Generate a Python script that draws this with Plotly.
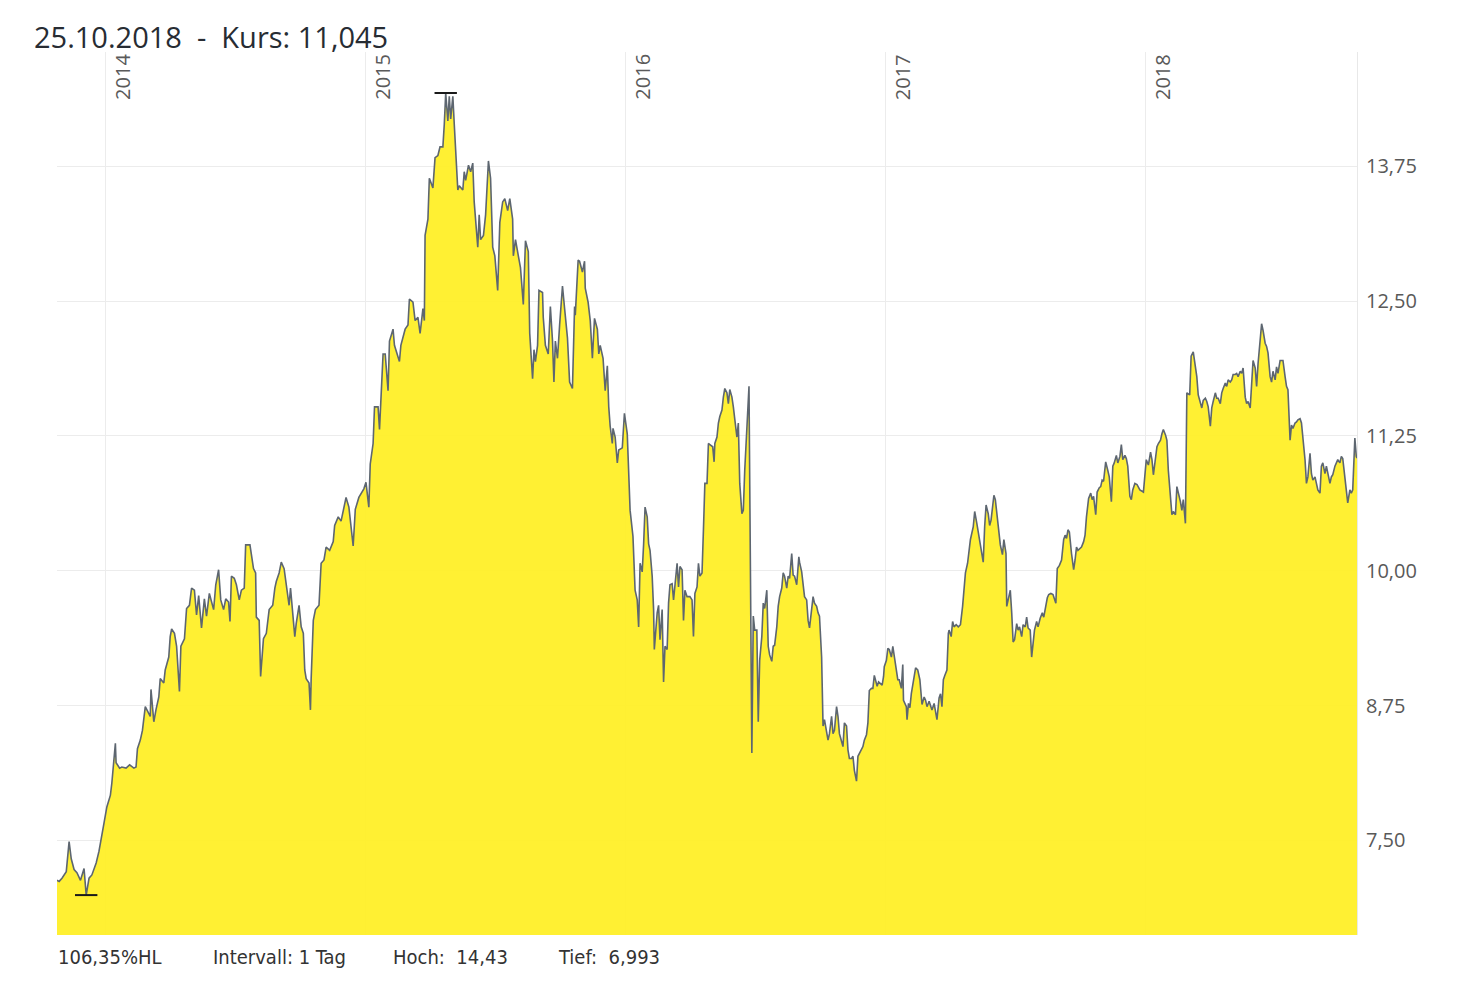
import plotly.graph_objects as go

# closing prices (day-month per year, price in EUR)
days_2013 = ['10-25', '10-28', '11-01', '11-07', '11-11', '11-14', '11-18', '11-22', '11-27', '12-02',
             '12-05', '12-09', '12-13', '12-19', '12-23', '12-27', '12-30']
px_2013 = [7.13, 7.12, 7.15, 7.21, 7.49, 7.33, 7.23, 7.20, 7.13, 7.24,
           6.993, 7.15, 7.18, 7.29, 7.40, 7.57, 7.66]

days_2014 = ['01-03', '01-08', '01-10', '01-13', '01-15', '01-16', '01-21', '01-24', '01-30', '02-04',
             '02-10', '02-13', '02-15', '02-19', '02-22', '02-26', '03-03', '03-05', '03-06', '03-10',
             '03-13', '03-17', '03-19', '03-24', '03-26', '03-31', '04-02', '04-04', '04-08', '04-11',
             '04-15', '04-17', '04-22', '04-25', '04-29', '05-02', '05-06', '05-09', '05-12', '05-16',
             '05-20', '05-23', '05-27', '05-30', '06-02', '06-05', '06-09', '06-12', '06-16', '06-19',
             '06-23', '06-25', '06-27', '07-01', '07-04', '07-08', '07-11', '07-15', '07-17', '07-23',
             '07-28', '07-31', '08-01', '08-05', '08-07', '08-11', '08-15', '08-19', '08-24', '08-27',
             '08-29', '09-02', '09-05', '09-09', '09-12', '09-16', '09-18', '09-22', '09-24', '09-26',
             '09-30', '10-03', '10-06', '10-08', '10-10', '10-14', '10-16', '10-17', '10-20', '10-23',
             '10-28', '10-31', '11-04', '11-07', '11-12', '11-17', '11-19', '11-24', '11-28', '12-05',
             '12-09', '12-15', '12-18', '12-23', '12-30']
px_2014 = [7.81, 7.92, 8.03, 8.25, 8.40, 8.22, 8.17, 8.18, 8.17, 8.20,
           8.17, 8.18, 8.35, 8.43, 8.52, 8.74, 8.68, 8.65, 8.90, 8.60,
           8.71, 8.83, 9.00, 8.96, 9.08, 9.20, 9.39, 9.46, 9.42, 9.30,
           8.88, 9.30, 9.37, 9.65, 9.68, 9.84, 9.82, 9.59, 9.77, 9.47,
           9.74, 9.58, 9.79, 9.71, 9.64, 9.87, 10.01, 9.73, 9.64, 9.74,
           9.71, 9.53, 9.95, 9.93, 9.87, 9.73, 9.82, 9.84, 10.24, 10.24,
           10.02, 9.98, 9.57, 9.54, 9.02, 9.37, 9.42, 9.64, 9.68, 9.84,
           9.90, 9.98, 10.08, 10.02, 9.87, 9.68, 9.84, 9.57, 9.39, 9.51,
           9.68, 9.48, 9.42, 9.08, 9.00, 8.96, 8.71, 9.00, 9.54, 9.64,
           9.68, 10.07, 10.10, 10.22, 10.19, 10.27, 10.42, 10.50, 10.46, 10.68,
           10.59, 10.23, 10.57, 10.68, 10.76]

days_2015 = ['01-02', '01-06', '01-08', '01-12', '01-14', '01-19', '01-21', '01-23', '01-26', '01-29',
             '02-02', '02-04', '02-09', '02-11', '02-13', '02-18', '02-20', '02-26', '03-02', '03-04',
             '03-09', '03-12', '03-16', '03-19', '03-23', '03-25', '03-26', '03-30', '04-01', '04-06',
             '04-09', '04-13', '04-16', '04-20', '04-22', '04-24', '04-27', '04-29', '05-01', '05-04',
             '05-06', '05-08', '05-11', '05-13', '05-18', '05-20', '05-22', '05-26', '05-29', '06-01',
             '06-03', '06-08', '06-10', '06-12', '06-16', '06-19', '06-23', '06-26', '06-29', '07-02',
             '07-06', '07-09', '07-13', '07-16', '07-20', '07-23', '07-27', '07-28', '07-31', '08-04',
             '08-07', '08-11', '08-14', '08-18', '08-20', '08-24', '08-26', '08-28', '08-31', '09-02',
             '09-07', '09-08', '09-11', '09-15', '09-18', '09-21', '09-23', '09-25', '09-28', '10-01',
             '10-05', '10-08', '10-12', '10-15', '10-19', '10-22', '10-23', '10-27', '10-29', '11-02',
             '11-05', '11-06', '11-10', '11-13', '11-16', '11-19', '11-23', '11-25', '11-27', '12-01',
             '12-04', '12-07', '12-09', '12-11', '12-14', '12-15', '12-18', '12-21', '12-23', '12-28',
             '12-30', '12-31']
px_2015 = [10.82, 10.59, 10.99, 11.18, 11.52, 11.52, 11.31, 11.63, 12.01, 12.01,
           11.67, 12.13, 12.24, 12.09, 12.05, 11.94, 12.09, 12.24, 12.28, 12.52,
           12.49, 12.32, 12.35, 12.20, 12.43, 12.32, 13.11, 13.26, 13.64, 13.55,
           13.83, 13.85, 13.93, 13.93, 14.14, 14.43, 14.17, 14.40, 14.19, 14.40,
           14.14, 13.87, 13.53, 13.57, 13.53, 13.70, 13.62, 13.76, 13.70, 13.78,
           13.42, 13.00, 13.30, 13.07, 13.11, 13.30, 13.80, 13.64, 13.00, 12.92,
           12.60, 13.23, 13.42, 13.45, 13.34, 13.45, 13.26, 12.92, 13.07, 12.92,
           12.81, 12.47, 13.06, 12.96, 12.20, 11.78, 12.05, 11.94, 12.09, 12.60,
           12.58, 12.35, 12.09, 12.01, 12.45, 12.13, 11.75, 12.13, 11.97, 12.28,
           12.64, 12.43, 12.16, 11.75, 11.69, 12.45, 12.37, 12.88, 12.87, 12.77,
           12.87, 12.62, 12.49, 12.32, 11.97, 12.34, 12.24, 12.01, 12.09, 11.97,
           11.67, 11.90, 11.52, 11.34, 11.18, 11.32, 11.24, 11.00, 11.12, 11.14,
           11.31, 11.46]

days_2016 = ['01-04', '01-06', '01-08', '01-12', '01-15', '01-18', '01-20', '01-22', '01-25', '01-27',
             '01-29', '02-01', '02-03', '02-05', '02-08', '02-10', '02-11', '02-15', '02-17', '02-19',
             '02-22', '02-24', '02-26', '02-29', '03-02', '03-04', '03-07', '03-09', '03-11', '03-14',
             '03-16', '03-18', '03-21', '03-23', '03-25', '03-28', '04-01', '04-04', '04-06', '04-08',
             '04-11', '04-13', '04-15', '04-18', '04-20', '04-22', '04-25', '04-27', '04-29', '05-03',
             '05-05', '05-06', '05-09', '05-11', '05-13', '05-16', '05-18', '05-20', '05-23', '05-25',
             '05-27', '05-30', '06-01', '06-03', '06-06', '06-08', '06-09', '06-10', '06-13', '06-15',
             '06-17', '06-20', '06-21', '06-23', '06-27', '06-29', '07-01', '07-04', '07-06', '07-08',
             '07-11', '07-13', '07-15', '07-18', '07-20', '07-22', '07-25', '07-27', '07-29', '08-01',
             '08-03', '08-05', '08-08', '08-10', '08-12', '08-15', '08-17', '08-19', '08-22', '08-24',
             '08-26', '08-29', '09-01', '09-02', '09-05', '09-07', '09-09', '09-12', '09-14', '09-16',
             '09-19', '09-21', '09-23', '09-26', '09-28', '09-30', '10-03', '10-05', '10-07', '10-10',
             '10-12', '10-14', '10-17', '10-19', '10-21', '10-24', '10-26', '10-28', '10-31', '11-02',
             '11-04', '11-07', '11-09', '11-11', '11-14', '11-16', '11-18', '11-21', '11-23', '11-25',
             '11-28', '11-30', '12-02', '12-05', '12-07', '12-09', '12-12', '12-14', '12-16', '12-20',
             '12-22', '12-27', '12-29', '12-30']
px_2016 = [11.27, 10.93, 10.56, 10.32, 9.82, 9.73, 9.48, 10.07, 9.99, 10.25,
           10.59, 10.50, 10.25, 10.19, 9.95, 9.64, 9.27, 9.61, 9.68, 9.36,
           9.64, 8.97, 9.30, 9.27, 9.70, 9.87, 9.88, 9.73, 9.88, 10.07,
           9.85, 10.04, 10.01, 9.54, 9.82, 9.76, 9.76, 9.73, 9.39, 9.79,
           9.85, 10.07, 9.95, 9.98, 10.38, 10.81, 10.81, 11.18, 11.17, 11.15,
           11.01, 11.18, 11.24, 11.37, 11.43, 11.49, 11.61, 11.69, 11.65, 11.55,
           11.68, 11.61, 11.52, 11.40, 11.24, 11.37, 11.12, 10.81, 10.53, 10.56,
           10.93, 11.34, 11.34, 11.71, 8.31, 9.58, 9.45, 9.45, 8.60, 9.17,
           9.39, 9.70, 9.65, 9.82, 9.30, 9.22, 9.16, 9.30, 9.31, 9.48,
           9.67, 9.76, 9.84, 9.98, 9.95, 9.84, 9.95, 9.93, 10.16, 9.96,
           9.95, 9.87, 10.13, 10.08, 9.99, 9.88, 9.76, 9.73, 9.54, 9.47,
           9.64, 9.76, 9.70, 9.67, 9.61, 9.58, 9.20, 8.56, 8.62, 8.52,
           8.43, 8.49, 8.65, 8.49, 8.52, 8.74, 8.65, 8.49, 8.43, 8.37,
           8.59, 8.56, 8.34, 8.26, 8.26, 8.28, 8.15, 8.05, 8.28, 8.31,
           8.35, 8.37, 8.43, 8.48, 8.59, 8.89, 8.91, 8.91, 9.03, 8.93,
           8.97, 8.94, 9.02, 9.11]

days_2017 = ['01-02', '01-04', '01-06', '01-09', '01-11', '01-13', '01-16', '01-18', '01-20', '01-23',
             '01-25', '01-26', '01-30', '01-31', '02-02', '02-04', '02-06', '02-09', '02-12', '02-15',
             '02-18', '02-21', '02-24', '02-26', '02-28', '03-03', '03-05', '03-07', '03-10', '03-12',
             '03-14', '03-17', '03-19', '03-21', '03-23', '03-25', '03-28', '03-30', '03-31', '04-03',
             '04-05', '04-07', '04-10', '04-13', '04-16', '04-19', '04-21', '04-23', '04-26', '04-28',
             '04-30', '05-04', '05-06', '05-09', '05-12', '05-15', '05-18', '05-20', '05-22', '05-25',
             '05-27', '05-29', '05-31', '06-02', '06-04', '06-07', '06-09', '06-11', '06-14', '06-16',
             '06-19', '06-20', '06-22', '06-25', '06-27', '06-29', '07-01', '07-04', '07-06', '07-08',
             '07-11', '07-13', '07-16', '07-18', '07-20', '07-23', '07-25', '07-27', '07-29', '08-01',
             '08-03', '08-06', '08-09', '08-11', '08-14', '08-16', '08-18', '08-21', '08-24', '08-28',
             '08-30', '09-02', '09-05', '09-08', '09-10', '09-12', '09-14', '09-16', '09-19', '09-22',
             '09-24', '09-26', '09-28', '10-01', '10-03', '10-06', '10-08', '10-10', '10-13', '10-16',
             '10-18', '10-20', '10-23', '10-25', '10-28', '10-30', '11-01', '11-03', '11-06', '11-09',
             '11-11', '11-14', '11-16', '11-18', '11-21', '11-23', '11-26', '11-28', '11-30', '12-03',
             '12-05', '12-07', '12-10', '12-12', '12-14', '12-17', '12-20', '12-24', '12-28', '12-29']
px_2017 = [9.17, 9.28, 9.27, 9.20, 9.30, 9.20, 9.08, 8.99, 8.99, 8.91,
           9.13, 8.80, 8.74, 8.62, 8.77, 8.73, 8.86, 8.99, 9.10, 9.08,
           8.99, 8.76, 8.83, 8.80, 8.74, 8.79, 8.74, 8.71, 8.77, 8.68,
           8.62, 8.82, 8.86, 8.74, 8.99, 9.03, 9.08, 9.42, 9.45, 9.39,
           9.53, 9.48, 9.50, 9.48, 9.50, 9.67, 9.88, 9.98, 10.07, 10.16,
           10.29, 10.41, 10.55, 10.44, 10.32, 10.22, 10.08, 10.41, 10.61, 10.53,
           10.42, 10.47, 10.61, 10.70, 10.66, 10.46, 10.38, 10.24, 10.15, 10.29,
           10.16, 9.67, 9.73, 9.82, 9.61, 9.34, 9.36, 9.51, 9.45, 9.48,
           9.39, 9.50, 9.48, 9.57, 9.47, 9.45, 9.20, 9.37, 9.45, 9.53,
           9.48, 9.56, 9.61, 9.57, 9.67, 9.75, 9.78, 9.79, 9.78, 9.70,
           10.02, 10.05, 10.10, 10.29, 10.33, 10.30, 10.38, 10.36, 10.16, 10.01,
           10.10, 10.22, 10.19, 10.21, 10.22, 10.27, 10.33, 10.50, 10.67, 10.72,
           10.66, 10.69, 10.52, 10.73, 10.77, 10.78, 10.84, 10.83, 11.01, 10.93,
           10.87, 10.64, 10.97, 11.00, 11.07, 11.00, 11.06, 11.17, 11.03, 11.07,
           11.04, 10.97, 10.69, 10.66, 10.75, 10.81, 10.80, 10.75, 10.73, 10.73]

days_2018 = ['01-02', '01-05', '01-08', '01-10', '01-12', '01-15', '01-17', '01-19', '01-22', '01-24',
             '01-26', '01-29', '01-31', '02-02', '02-05', '02-07', '02-09', '02-12', '02-14', '02-16',
             '02-19', '02-21', '02-23', '02-26', '02-28', '03-04', '03-06', '03-09', '03-12', '03-14',
             '03-16', '03-19', '03-21', '03-23', '03-26', '03-28', '03-30', '04-02', '04-04', '04-06',
             '04-09', '04-11', '04-13', '04-16', '04-18', '04-20', '04-23', '04-25', '04-27', '04-30',
             '05-02', '05-04', '05-07', '05-09', '05-11', '05-14', '05-16', '05-18', '05-21', '05-23',
             '05-25', '05-28', '05-30', '06-01', '06-04', '06-06', '06-08', '06-11', '06-13', '06-15',
             '06-18', '06-20', '06-22', '06-25', '06-27', '06-29', '07-02', '07-04', '07-06', '07-09',
             '07-11', '07-13', '07-16', '07-18', '07-20', '07-23', '07-25', '07-27', '07-30', '08-01',
             '08-03', '08-06', '08-08', '08-10', '08-13', '08-15', '08-17', '08-20', '08-22', '08-24',
             '08-27', '08-29', '08-31', '09-03', '09-05', '09-07', '09-10', '09-12', '09-14', '09-17',
             '09-19', '09-21', '09-24', '09-26', '09-28', '10-01', '10-03', '10-05', '10-08', '10-10',
             '10-12', '10-15', '10-17', '10-19', '10-22', '10-24', '10-25']
px_2018 = [11.03, 10.98, 11.10, 11.03, 10.89, 11.04, 11.15, 11.18, 11.21, 11.27,
           11.31, 11.26, 11.21, 10.93, 10.69, 10.52, 10.55, 10.52, 10.78, 10.73,
           10.64, 10.56, 10.66, 10.44, 11.65, 11.63, 11.99, 12.03, 11.91, 11.80,
           11.63, 11.57, 11.51, 11.58, 11.60, 11.57, 11.52, 11.34, 11.51, 11.57,
           11.65, 11.60, 11.60, 11.55, 11.65, 11.69, 11.74, 11.71, 11.77, 11.75,
           11.77, 11.82, 11.82, 11.83, 11.80, 11.85, 11.83, 11.88, 11.61, 11.55,
           11.57, 11.51, 11.80, 11.95, 11.88, 11.71, 11.92, 12.11, 12.29, 12.23,
           12.11, 12.08, 12.02, 11.80, 11.75, 11.85, 11.77, 11.89, 11.83, 11.95,
           11.95, 11.95, 11.80, 11.71, 11.68, 11.21, 11.35, 11.32, 11.37, 11.38,
           11.40, 11.41, 11.37, 11.24, 11.03, 10.81, 10.87, 11.09, 10.90, 10.84,
           10.87, 10.81, 10.75, 10.72, 10.97, 11.00, 10.90, 10.97, 10.90, 10.81,
           10.87, 10.89, 10.97, 11.00, 11.03, 11.00, 11.06, 11.04, 10.87, 10.75,
           10.63, 10.75, 10.72, 10.75, 11.23, 11.06, 11.045]

year_labels = ['2014', '2015', '2016', '2017', '2018']
headline = '25.10.2018\u00a0\u00a0-\u00a0\u00a0Kurs: 11,045'
footer_texts = ['106,35%HL', 'Intervall: 1 Tag', 'Hoch:\u00a0\u00a014,43', 'Tief:\u00a0\u00a06,993']


def main():
    dates, prices = [], []
    for yr, days, vals in [(2013, days_2013, px_2013), (2014, days_2014, px_2014),
                           (2015, days_2015, px_2015), (2016, days_2016, px_2016),
                           (2017, days_2017, px_2017), (2018, days_2018, px_2018)]:
        dates += [f'{yr}-{d}' for d in days]
        prices += vals

    hi = prices.index(max(prices))
    lo = prices.index(min(prices))

    fig = go.Figure()
    fig.add_trace(go.Scatter(
        x=dates, y=prices, mode='lines',
        line=dict(color='#5d6670', width=1.6),
        fill='tozeroy', fillcolor='rgba(255,239,34,0.92)',
        hoverinfo='skip'))
    # high / low markers
    fig.add_trace(go.Scatter(
        x=[dates[hi], dates[lo]], y=[prices[hi], prices[lo]], mode='markers',
        marker=dict(symbol='line-ew', size=16, color='#1a1a1a',
                    line=dict(color='#1a1a1a', width=2)),
        hoverinfo='skip'))

    ann = []
    for y in year_labels:
        ann.append(dict(x=f'{y}-01-01', xref='x', y=1, yref='paper',
                        xanchor='left', yanchor='top', textangle=-90, xshift=1,
                        text=y, showarrow=False,
                        font=dict(family='Open Sans', size=20, color='#5a5a5a')))
    ann.append(dict(x=-25 / 1300, xref='paper', y=1, yref='paper', yshift=16,
                    xanchor='left', yanchor='middle', text=headline, showarrow=False,
                    font=dict(family='Open Sans', size=29, color='#272c33')))
    for xp, t in zip([0, 155, 335, 500], footer_texts):
        ann.append(dict(x=xp / 1300 - 0.001, xref='paper', y=0, yref='paper', yshift=-22,
                        xanchor='left', yanchor='middle', text=t, showarrow=False,
                        font=dict(family='Liberation Sans Narrow, DejaVu Sans Condensed, sans-serif',
                                  size=20, color='#333333')))

    # page body adds an 8px offset, so the figure is a bit smaller than the window
    fig.update_layout(
        width=1462, height=980,
        margin=dict(l=49, r=113, t=44, b=53),
        paper_bgcolor='white', plot_bgcolor='white',
        separators=',.',
        showlegend=False,
        annotations=ann,
        xaxis=dict(type='date', range=[dates[0], dates[-1]],
                   showgrid=True, gridcolor='#ececec', gridwidth=1,
                   tick0='2014-01-01', dtick='M12', showticklabels=False,
                   zeroline=False, showline=False, ticks=''),
        yaxis=dict(side='right', range=[6.623, 14.81], tick0=7.5, dtick=1.25,
                   tickformat='.2f', showgrid=True, gridcolor='#ececec',
                   zeroline=False, showline=True, linecolor='#e8e8e8', linewidth=1,
                   ticks='', ticklabelstandoff=4,
                   tickfont=dict(family='Open Sans', size=20, color='#595959')),
    )
    fig.write_html('out.html')


if __name__ == '__main__':
    main()
